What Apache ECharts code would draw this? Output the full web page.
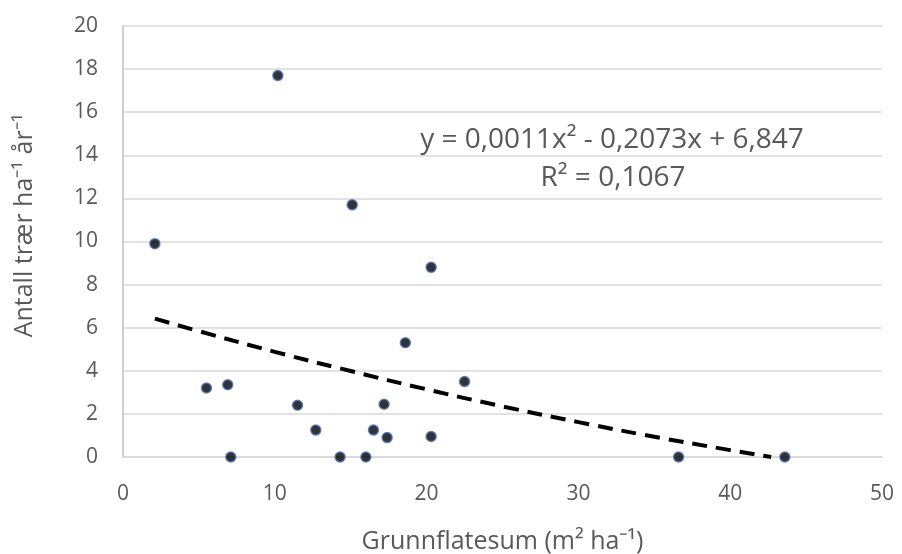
<!DOCTYPE html>
<html>
<head>
<meta charset="utf-8">
<script src="https://cdn.jsdelivr.net/npm/echarts@6/dist/echarts.min.js"></script>
<style>
  html, body { margin: 0; padding: 0; background: #fff; }
  #chart { width: 902px; height: 554px; }
</style>
</head>
<body>
<div id="chart"></div>
<script>
  // grunnflatesum (m2/ha) og antall trær per ha per år
  var xVals = [10.2, 15.1, 2.1, 20.3, 18.6, 22.5, 5.5, 6.9, 11.5, 17.2, 12.7, 16.5, 17.4, 20.3, 7.1, 14.3, 16.0, 36.6, 43.6];
  var yVals = [17.7, 11.7, 9.9, 8.8, 5.3, 3.5, 3.2, 3.35, 2.4, 2.45, 1.25, 1.25, 0.9, 0.95, 0, 0, 0, 0, 0];

  // trendlinje (polynom, 2. grad) lest av figuren
  var trendX = [2.1, 5, 10, 15, 20, 25, 30, 35, 40, 42.7];
  var trendY = [6.42, 5.84, 4.88, 3.99, 3.14, 2.35, 1.62, 0.94, 0.32, 0];

  var eqText = 'y = 0,0011x² - 0,2073x + 6,847';
  var r2Text = 'R² = 0,1067';

  var textColor = '#595959';
  var font = 'Open Sans';

  var points = xVals.map(function (x, i) { return [x, yVals[i]]; });
  var trend = trendX.map(function (x, i) { return [x, trendY[i]]; });

  var myChart = echarts.init(document.getElementById('chart'));
  var option = {
    animation: false,
    grid: {
      left: 123,
      right: 20,
      top: 26,
      bottom: 97,
      containLabel: false,
      outerBoundsMode: 'none'
    },
    xAxis: {
      type: 'value',
      min: 0,
      max: 50,
      interval: 10,
      name: 'Grunnflatesum (m² ha⁻¹)',
      nameLocation: 'middle',
      nameGap: 72,
      nameTextStyle: { color: textColor, fontSize: 25, fontFamily: font },
      axisLine: { show: true, lineStyle: { color: '#d9d9d9', width: 1.5 } },
      axisTick: { show: false },
      splitLine: { show: false },
      axisLabel: { color: textColor, fontSize: 21, fontFamily: font, margin: 27 }
    },
    yAxis: {
      type: 'value',
      min: 0,
      max: 20,
      interval: 2,
      name: 'Antall trær ha⁻¹ år⁻¹',
      nameLocation: 'middle',
      nameGap: 86,
      nameTextStyle: { color: textColor, fontSize: 25, fontFamily: font, padding: [0, 0, 0, 32] },
      axisLine: { show: true, lineStyle: { color: '#bfbfbf', width: 1.5 } },
      axisTick: { show: false },
      splitLine: { lineStyle: { color: '#d9d9d9', width: 1.5 } },
      axisLabel: { color: textColor, fontSize: 21, fontFamily: font, margin: 25 }
    },
    series: [
      {
        type: 'line',
        data: trend,
        smooth: true,
        symbol: 'none',
        z: 2,
        lineStyle: { color: '#000', width: 4, type: [15, 9] }
      },
      {
        type: 'scatter',
        data: points,
        symbol: 'circle',
        symbolSize: 10,
        z: 3,
        itemStyle: { color: '#000', borderColor: '#4472c4', borderWidth: 1.5 }
      }
    ],
    graphic: [
      {
        type: 'text',
        x: 612,
        y: 140,
        style: { text: eqText, fill: textColor, font: '28px "Open Sans"', align: 'center', verticalAlign: 'middle' }
      },
      {
        type: 'text',
        x: 613,
        y: 178,
        style: { text: r2Text, fill: textColor, font: '28px "Open Sans"', align: 'center', verticalAlign: 'middle' }
      }
    ]
  };
  myChart.setOption(option);
</script>
</body>
</html>
